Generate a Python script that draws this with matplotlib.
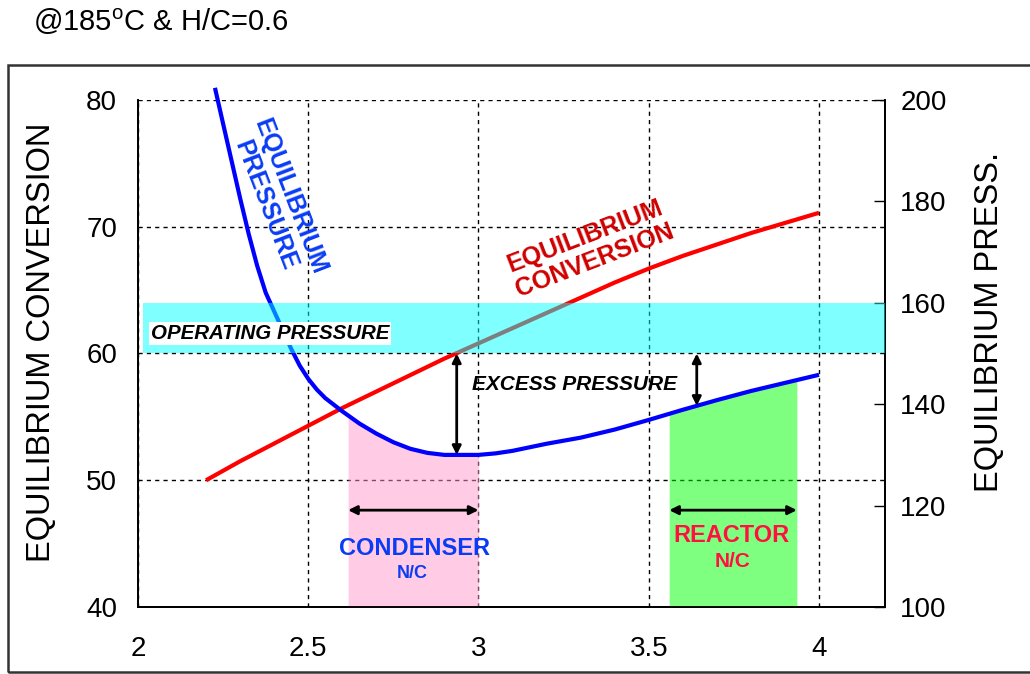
import numpy as np
import matplotlib
matplotlib.use("Agg")
import matplotlib.pyplot as plt
import matplotlib.font_manager as fm
from matplotlib.patches import Rectangle

# ---------------- data ----------------
conv_x = [2.2, 2.3, 2.4, 2.5, 2.6, 2.7, 2.8, 2.9, 3.0, 3.1, 3.2, 3.3, 3.4, 3.5,
          3.6, 3.7, 3.8, 3.9, 4.0]
conv_y = [50.0, 51.5, 52.9, 54.3, 55.7, 57.0, 58.3, 59.6, 60.8, 62.0, 63.2, 64.4,
          65.6, 66.7, 67.7, 68.6, 69.5, 70.3, 71.1]

press_x = [2.226, 2.25, 2.3, 2.325, 2.35, 2.375, 2.4, 2.425, 2.45, 2.475, 2.5,
           2.525, 2.55, 2.6, 2.65, 2.7, 2.75, 2.8, 2.85, 2.9, 2.95, 3.0, 3.05,
           3.1, 3.2, 3.3, 3.4, 3.5, 3.6, 3.7, 3.8, 3.9, 4.0]
press_y = [202.4, 195.3, 180.6, 173.6, 167.3, 162.0, 158.3, 154.6, 150.9, 147.6,
           145.0, 142.9, 141.2, 138.6, 136.2, 134.2, 132.5, 131.2, 130.4, 130.0,
           130.0, 130.0, 130.3, 130.8, 132.2, 133.4, 135.0, 136.9, 138.9, 140.8,
           142.6, 144.2, 145.8]

x_ticks = [2, 2.5, 3, 3.5, 4]
x_tick_labels = ["2", "2.5", "3", "3.5", "4"]
conv_ticks = [40, 50, 60, 70, 80]
conv_tick_labels = ["40", "50", "60", "70", "80"]
press_ticks = [100, 120, 140, 160, 180, 200]
press_tick_labels = ["100", "120", "140", "160", "180", "200"]

operating_band = (150, 160)
condenser_range = (2.617, 3.0)
reactor_range = (3.56, 3.935)

# ---------------- fonts ----------------
plt.rcParams['font.family'] = ['Liberation Sans', 'DejaVu Sans']
plt.rcParams['mathtext.fontset'] = 'custom'
plt.rcParams['mathtext.rm'] = 'Liberation Sans'
names = {f.name for f in fm.fontManager.ttflist}
if 'Liberation Sans Narrow' in names:
    tick_font, tick_size = ['Liberation Sans Narrow', 'Liberation Sans'], 23
else:
    tick_font, tick_size = ['Liberation Sans'], 20

W, H = 1030, 674
fig = plt.figure(figsize=(W / 100, H / 100), dpi=100)
fig.patch.set_facecolor('white')

L, R, T, B = 138, 885, 100, 607
ax = fig.add_axes([L / W, 1 - B / H, (R - L) / W, (B - T) / H])
ax2 = ax.twinx()

xmax = 2 + (R - L) / 340.5
ax.set_xlim(2, xmax)
ax.set_ylim(40, 80)
ax2.set_ylim(100, 200)

# grid
ax.set_xticks(x_ticks)
ax.set_xticklabels(x_tick_labels, fontfamily=tick_font, fontsize=tick_size)
ax.set_yticks(conv_ticks)
ax.set_yticklabels(conv_tick_labels, fontfamily=tick_font, fontsize=tick_size)
ax.grid(True, color='black', linestyle=(0, (3, 3)), linewidth=1.0)
ax.tick_params(axis='both', length=0)
ax.tick_params(axis='x', pad=21)
ax.tick_params(axis='y', pad=15)

ax2.set_yticks(press_ticks)
ax2.set_yticklabels(press_tick_labels, fontfamily=tick_font, fontsize=tick_size)
ax2.tick_params(axis='y', direction='in', length=8, width=1, pad=11)

for a in (ax, ax2):
    a.spines['top'].set_visible(False)
    for s in ('left', 'right', 'bottom'):
        a.spines[s].set_linewidth(1.3)
        a.spines[s].set_color('black')

# red: equilibrium conversion (left axis)
ax.plot(conv_x, conv_y, color='#FF0000', lw=3.0, zorder=3, solid_capstyle='butt')

# fills under pressure curve
for (lo, hi), col in ((condenser_range, '#FF99CC'), (reactor_range, '#00FF00')):
    xs = np.linspace(lo, hi, 200)
    ys = np.interp(xs, press_x, press_y)
    ax2.fill_between(xs, 100, ys, color=col, alpha=0.5, lw=0, zorder=1)

# blue: equilibrium pressure (right axis)
ax2.plot(press_x, press_y, color='#0000FF', lw=3.0, zorder=2, clip_on=False,
         solid_capstyle='butt', solid_joinstyle='round')

# operating pressure band
ax2.fill_between([2.0156, xmax], operating_band[0], operating_band[1],
                 color='#00FFFF', alpha=0.5, lw=0, zorder=3)
ax2.text(2.388, 154.0, 'OPERATING PRESSURE', fontsize=14.8, fontweight='bold',
         style='italic', ha='center', va='center', zorder=5,
         bbox=dict(facecolor='white', edgecolor='none', pad=1.5))

# arrows
arrow_kw = dict(arrowstyle='<|-|>', color='black', lw=2, mutation_scale=13,
                shrinkA=0, shrinkB=0)
x1 = 2.936
ax2.annotate('', xy=(x1, operating_band[0]), xytext=(x1, np.interp(x1, press_x, press_y)),
             arrowprops=arrow_kw, zorder=6)
x2 = 3.641
ax2.annotate('', xy=(x2, operating_band[0]), xytext=(x2, np.interp(x2, press_x, press_y)),
             arrowprops=arrow_kw, zorder=6)
ax2.text(2.981, 143.8, 'EXCESS PRESSURE', fontsize=15, fontweight='bold',
         style='italic', ha='left', va='center', zorder=6)

ax2.annotate('', xy=(condenser_range[0], 119.1), xytext=(condenser_range[1], 119.1),
             arrowprops=arrow_kw, zorder=6)
ax2.annotate('', xy=(reactor_range[0], 119.1), xytext=(reactor_range[1], 119.1),
             arrowprops=arrow_kw, zorder=6)

ax2.text(2.812, 111.6, 'CONDENSER', color='#0A3CF5', fontsize=17, fontweight='bold',
         ha='center', va='center', zorder=6)
ax2.text(2.804, 106.6, 'N/C', color='#0A3CF5', fontsize=13, fontweight='bold',
         ha='center', va='center', zorder=6)
ax2.text(3.744, 114.2, 'REACTOR', color='#FF1040', fontsize=17, fontweight='bold',
         ha='center', va='center', zorder=6)
ax2.text(3.747, 109.0, 'N/C', color='#FF1040', fontsize=15, fontweight='bold',
         ha='center', va='center', zorder=6)

# curve labels
ax2.text(2.41, 180.1, 'EQUILIBRIUM\nPRESSURE', color='#0A3CF5', fontsize=18,
         fontweight='bold', ha='center', va='center', rotation=-69,
         linespacing=1.1, multialignment='center', zorder=6)
ax2.text(3.3275, 170.8, 'EQUILIBRIUM\nCONVERSION', color='#D00000', fontsize=18,
         fontweight='bold', ha='center', va='center', rotation=21,
         linespacing=1.1, multialignment='center', zorder=6)

# axis labels
fig.text(42 / W, 1 - 342 / H, 'EQUILIBRIUM CONVERSION', rotation=90, fontsize=23.5,
         ha='center', va='center')
fig.text(990 / W, 1 - 322 / H, 'EQUILIBRIUM PRESS.', rotation=90, fontsize=23.5,
         ha='center', va='center')

# title
fig.text(33 / W, 1 - 22 / H, '@185$^{\\mathrm{o}}$C & H/C=0.6', fontsize=21,
         ha='left', va='center')

# outer frame
fig.patches.append(Rectangle((8 / W, 1 - 672 / H), 1.2, (672 - 65) / H,
                             transform=fig.transFigure, fill=False,
                             edgecolor='#333333', lw=1.8, clip_on=False))

fig.savefig('out.png', dpi=100, facecolor='white')
